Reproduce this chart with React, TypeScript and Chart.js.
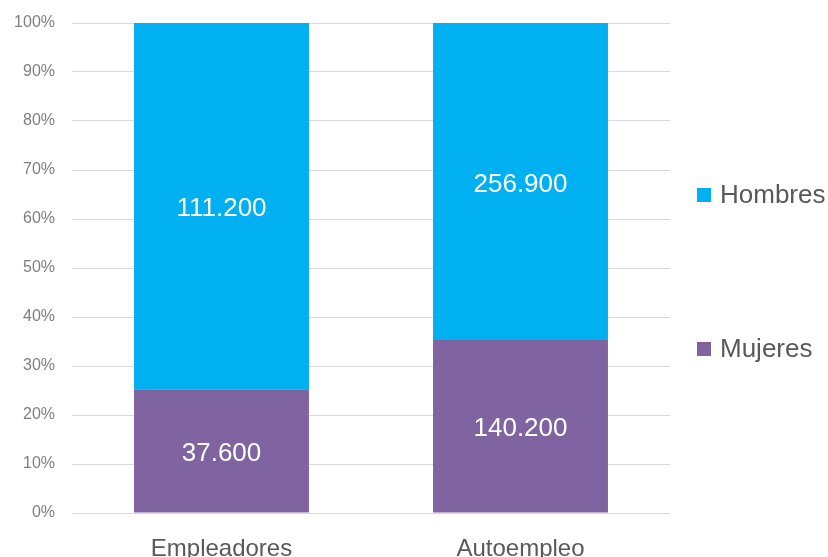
import React, { useEffect, useRef } from "react";
import { Chart, registerables } from "chart.js";

Chart.register(...registerables);

const categories = ["Empleadores", "Autoempleo"];
const hombres = [111200, 256900];
const mujeres = [37600, 140200];
const seriesNames = ["Mujeres", "Hombres"];
const seriesColors = ["#8064A2", "#00B0F0"];
const yTicks = [0, 10, 20, 30, 40, 50, 60, 70, 80, 90, 100];

const FONT = "'Liberation Sans', Arial, sans-serif";

function fmt(n: number): string {
  const s = Math.round(n).toString();
  return s.replace(/\B(?=(\d{3})+(?!\d))/g, ".");
}

export default function App() {
  const ref = useRef<HTMLCanvasElement | null>(null);

  useEffect(() => {
    document.body.style.margin = "0";
    const totals = categories.map((_, i) => hombres[i] + mujeres[i]);
    const raw = [mujeres, hombres];
    const pct = raw.map((arr) => arr.map((v, i) => (v / totals[i]) * 100));

    const labelPlugin = {
      id: "segLabels",
      afterDatasetsDraw(chart: any) {
        const ctx = chart.ctx;
        ctx.save();
        ctx.fillStyle = "#ffffff";
        ctx.font = `26px ${FONT}`;
        ctx.textAlign = "center";
        ctx.textBaseline = "middle";
        chart.data.datasets.forEach((ds: any, di: number) => {
          const meta = chart.getDatasetMeta(di);
          meta.data.forEach((el: any, i: number) => {
            const y = (el.y + el.base) / 2;
            ctx.fillText(fmt(raw[di][i]), el.x, y + 3);
          });
        });
        ctx.restore();
      },
    };

    const legendPlugin = {
      id: "sideLegend",
      afterDraw(chart: any) {
        const ctx = chart.ctx;
        const area = chart.chartArea;
        const entries = [
          { name: seriesNames[1], color: seriesColors[1], dy: 172 },
          { name: seriesNames[0], color: seriesColors[0], dy: 326 },
        ];
        ctx.save();
        ctx.font = `26px ${FONT}`;
        ctx.textBaseline = "middle";
        ctx.textAlign = "left";
        entries.forEach((e) => {
          const cy = area.top + e.dy;
          ctx.fillStyle = e.color;
          ctx.fillRect(area.right + 27, cy - 7, 14, 14);
          ctx.fillStyle = "#595959";
          ctx.fillText(e.name, area.right + 50, cy + 1);
        });
        ctx.restore();
      },
    };

    const chart = new Chart(ref.current as HTMLCanvasElement, {
      type: "bar",
      data: {
        labels: categories,
        datasets: seriesNames.map((name, i) => ({
          label: name,
          data: pct[i],
          backgroundColor: seriesColors[i],
          borderWidth: 0,
          categoryPercentage: 0.585,
          barPercentage: 1,
        })),
      },
      options: {
        animation: false,
        responsive: false,
        maintainAspectRatio: false,
        layout: { padding: { top: 23, right: 158, left: 0, bottom: 0 } },
        plugins: {
          legend: { display: false },
          tooltip: { enabled: false },
        },
        scales: {
          x: {
            stacked: true,
            grid: { display: false },
            border: { display: false },
            ticks: {
              color: "#595959",
              font: { family: FONT, size: 24 },
              padding: 14,
            },
            afterFit(scale: any) {
              scale.height = 44;
              scale.paddingLeft = 0;
              scale.paddingRight = 0;
            },
          },
          y: {
            stacked: true,
            min: 0,
            max: 100,
            afterBuildTicks(scale: any) {
              scale.ticks = yTicks.map((v) => ({ value: v }));
            },
            grid: { color: "#d9d9d9", lineWidth: 1, drawTicks: false },
            border: { display: false },
            ticks: {
              color: "#7f7f7f",
              font: { family: FONT, size: 16 },
              padding: 17,
              callback: (v: any) => `${v}%`,
            },
            afterFit(scale: any) {
              scale.width = 72;
              scale.paddingTop = 0;
              scale.paddingBottom = 0;
            },
          },
        },
      },
      plugins: [labelPlugin, legendPlugin],
    });
    return () => chart.destroy();
  }, []);

  return (
    <div style={{ position: "absolute", left: 0, top: 0, width: 828, height: 557, background: "#fff" }}>
      <canvas ref={ref} width={828} height={557} style={{ width: 828, height: 557 }} />
    </div>
  );
}
